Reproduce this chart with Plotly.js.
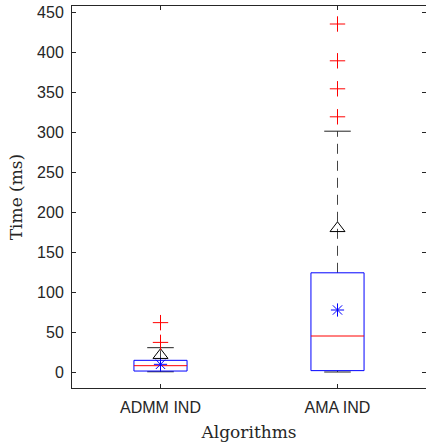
<!DOCTYPE html>
<html>
<head>
<meta charset="utf-8">
<script src="https://cdn.plot.ly/plotly-3.0.1.min.js"></script>
<style>html,body{margin:0;padding:0;background:#fff;overflow:hidden}</style>
</head>
<body>
<div id="chart" style="width:426px;height:446px"></div>
<script>
var categories = ['ADMM IND', 'AMA IND'];
var positions = [1, 2];
var q1 = [1.2, 1.7];
var medians = [7.9, 45];
var q3 = [14.6, 124];
var lowerWhisker = [0.3, 0];
var upperWhisker = [30.4, 301];
var means = [9.6, 77.5];
var triangles = [21, 179.6];
var outliersX = [1, 1, 2, 2, 2, 2];
var outliersY = [61.7, 37, 435, 389, 354, 319];
var yTicks = [0, 50, 100, 150, 200, 250, 300, 350, 400, 450];

var boxHalf = 0.15, capHalf = 0.075;
var traces = [];
for (var i = 0; i < categories.length; i++) {
  var p = positions[i];
  traces.push({x: [p, p], y: [q3[i], upperWhisker[i]], mode: 'lines', line: {color: '#444', width: 1, dash: '10px,7px'}, hoverinfo: 'skip'});
  traces.push({x: [p, p], y: [lowerWhisker[i], q1[i]], mode: 'lines', line: {color: '#444', width: 1, dash: '10px,7px'}, hoverinfo: 'skip'});
  traces.push({x: [p - capHalf, p + capHalf], y: [upperWhisker[i], upperWhisker[i]], mode: 'lines', line: {color: '#222', width: 1}, hoverinfo: 'skip'});
  traces.push({x: [p - capHalf, p + capHalf], y: [lowerWhisker[i], lowerWhisker[i]], mode: 'lines', line: {color: '#222', width: 1}, hoverinfo: 'skip'});
  traces.push({x: [p - boxHalf, p + boxHalf, p + boxHalf, p - boxHalf, p - boxHalf], y: [q1[i], q1[i], q3[i], q3[i], q1[i]], mode: 'lines', line: {color: '#0000ff', width: 1}, hoverinfo: 'skip'});
  traces.push({x: [p - boxHalf, p + boxHalf], y: [medians[i], medians[i]], mode: 'lines', line: {color: '#ff0000', width: 1}, hoverinfo: 'skip'});
}
traces.push({x: positions, y: means, mode: 'markers', marker: {symbol: 'asterisk-open', size: 11, color: '#0000ff', line: {color: '#0000ff', width: 1}}});
traces.push({x: positions, y: triangles, mode: 'markers', marker: {symbol: 'triangle-up-open', size: 13, color: '#000', line: {color: '#000', width: 1}}});
traces.push({x: outliersX, y: outliersY, mode: 'markers', marker: {symbol: 'cross-thin-open', size: 11, color: '#ff0000', line: {color: '#ff0000', width: 1}}});
traces.forEach(function (t) { t.type = 'scatter'; t.showlegend = false; });

var layout = {
  width: 426, height: 446,
  margin: {l: 72, r: 0, t: 6, b: 58},
  paper_bgcolor: '#fff', plot_bgcolor: '#fff',
  showlegend: false,
  xaxis: {
    range: [0.5, 2.5], tickvals: positions, ticktext: categories,
    ticks: 'inside', ticklen: 4, tickcolor: '#262626', mirror: 'ticks',
    showline: true, linecolor: '#262626', linewidth: 1, showgrid: false, zeroline: false,
    ticklabelstandoff: 5,
    tickfont: {family: 'Liberation Sans, Arial, sans-serif', size: 16, color: '#262626'},
    title: {text: 'Algorithms', font: {family: 'DejaVu Serif, serif', size: 17, color: '#262626'}, standoff: 10}
  },
  yaxis: {
    range: [-20, 457.5], tickvals: yTicks,
    ticks: 'inside', ticklen: 4, tickcolor: '#262626', mirror: 'ticks',
    showline: true, linecolor: '#262626', linewidth: 1, showgrid: false, zeroline: false,
    ticklabelstandoff: 4,
    tickfont: {family: 'Liberation Sans, Arial, sans-serif', size: 16, color: '#262626'},
    title: {text: 'Time (ms)', font: {family: 'DejaVu Serif, serif', size: 17, color: '#262626'}, standoff: 10}
  }
};
Plotly.newPlot('chart', traces, layout, {displayModeBar: false, staticPlot: true});
</script>
</body>
</html>
